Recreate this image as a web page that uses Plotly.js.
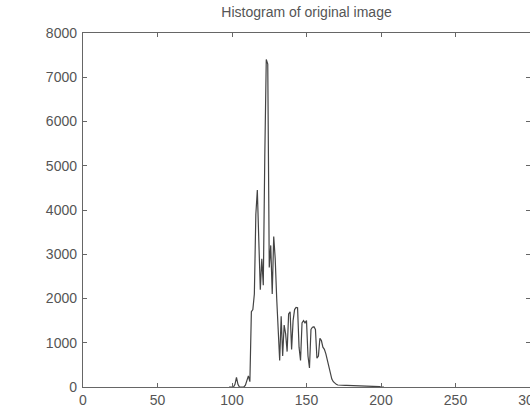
<!DOCTYPE html>
<html>
<head>
<meta charset="utf-8">
<script src="https://cdn.plot.ly/plotly-3.0.1.min.js"></script>
<style>html,body{margin:0;padding:0;overflow:hidden;background:#fff}</style>
</head>
<body>
<div id="chart" style="width:541px;height:416px"></div>
<script>
var bins = [98,99,100,101,102,103,104,105,106,107,108,109,110,111,112,113,114,115,116,117,118,119,120,121,122,123,124,125,126,127,128,129,130,131,132,133,134,135,136,137,138,139,140,141,142,143,144,145,146,147,148,149,150,151,152,153,154,155,156,157,158,159,160,161,162,163,164,165,166,167,168,169,170,171,172,173,174,175,176,177,178,179,180,181,182,183,184,185,186,187,188,189,190,191,192,193,194,195,196,197,198,199,200,201,202];
var counts = [0,0,0,0,60,220,60,0,0,0,0,40,150,250,120,1700,1750,2100,3900,4450,3300,2200,2900,2300,5200,7400,7300,2700,3200,2100,3400,2900,2000,1200,600,1600,700,1400,1200,800,1650,1700,850,1500,1750,1800,1790,900,600,1450,1500,1450,1500,700,430,1300,1350,1360,1300,650,700,1100,1050,900,850,750,600,420,280,180,120,80,60,45,40,40,38,36,35,35,34,33,32,32,31,30,30,30,29,28,28,27,27,26,25,25,24,23,22,20,15,8,0,0,0];
var xTicks = [0,50,100,150,200,250,300];
var yTicks = [0,1000,2000,3000,4000,5000,6000,7000,8000];
var chartTitle = 'Histogram of original image';

var axisCommon = {
  showline: true, linecolor: '#666', linewidth: 1.2, mirror: 'ticks',
  ticks: 'inside', ticklen: 4, tickcolor: '#666', tickwidth: 1,
  showgrid: false, zeroline: false, ticklabeloverflow: 'allow',
  tickfont: {family: 'Liberation Sans, Arial, sans-serif', size: 14, color: '#555'}
};

var layout = {
  width: 541, height: 416,
  margin: {l: 83, r: 11, t: 33, b: 29},
  paper_bgcolor: '#fff', plot_bgcolor: '#fff',
  showlegend: false,
  title: {text: chartTitle, x: 0.5, xref: 'paper', xanchor: 'center', y: 0.982, yanchor: 'top',
          font: {family: 'Liberation Sans, Arial, sans-serif', size: 14, color: '#555'}},
  xaxis: Object.assign({}, axisCommon, {range: [0, 300], tickvals: xTicks, ticktext: xTicks.map(String)}),
  yaxis: Object.assign({}, axisCommon, {range: [0, 8000], tickvals: yTicks, ticktext: yTicks.map(String), ticklabelstandoff: 2})
};

Plotly.newPlot('chart', [{
  x: bins, y: counts, type: 'scatter', mode: 'lines',
  line: {color: '#444', width: 1.2}, hoverinfo: 'skip'
}], layout, {staticPlot: true, displayModeBar: false});
</script>
</body>
</html>
